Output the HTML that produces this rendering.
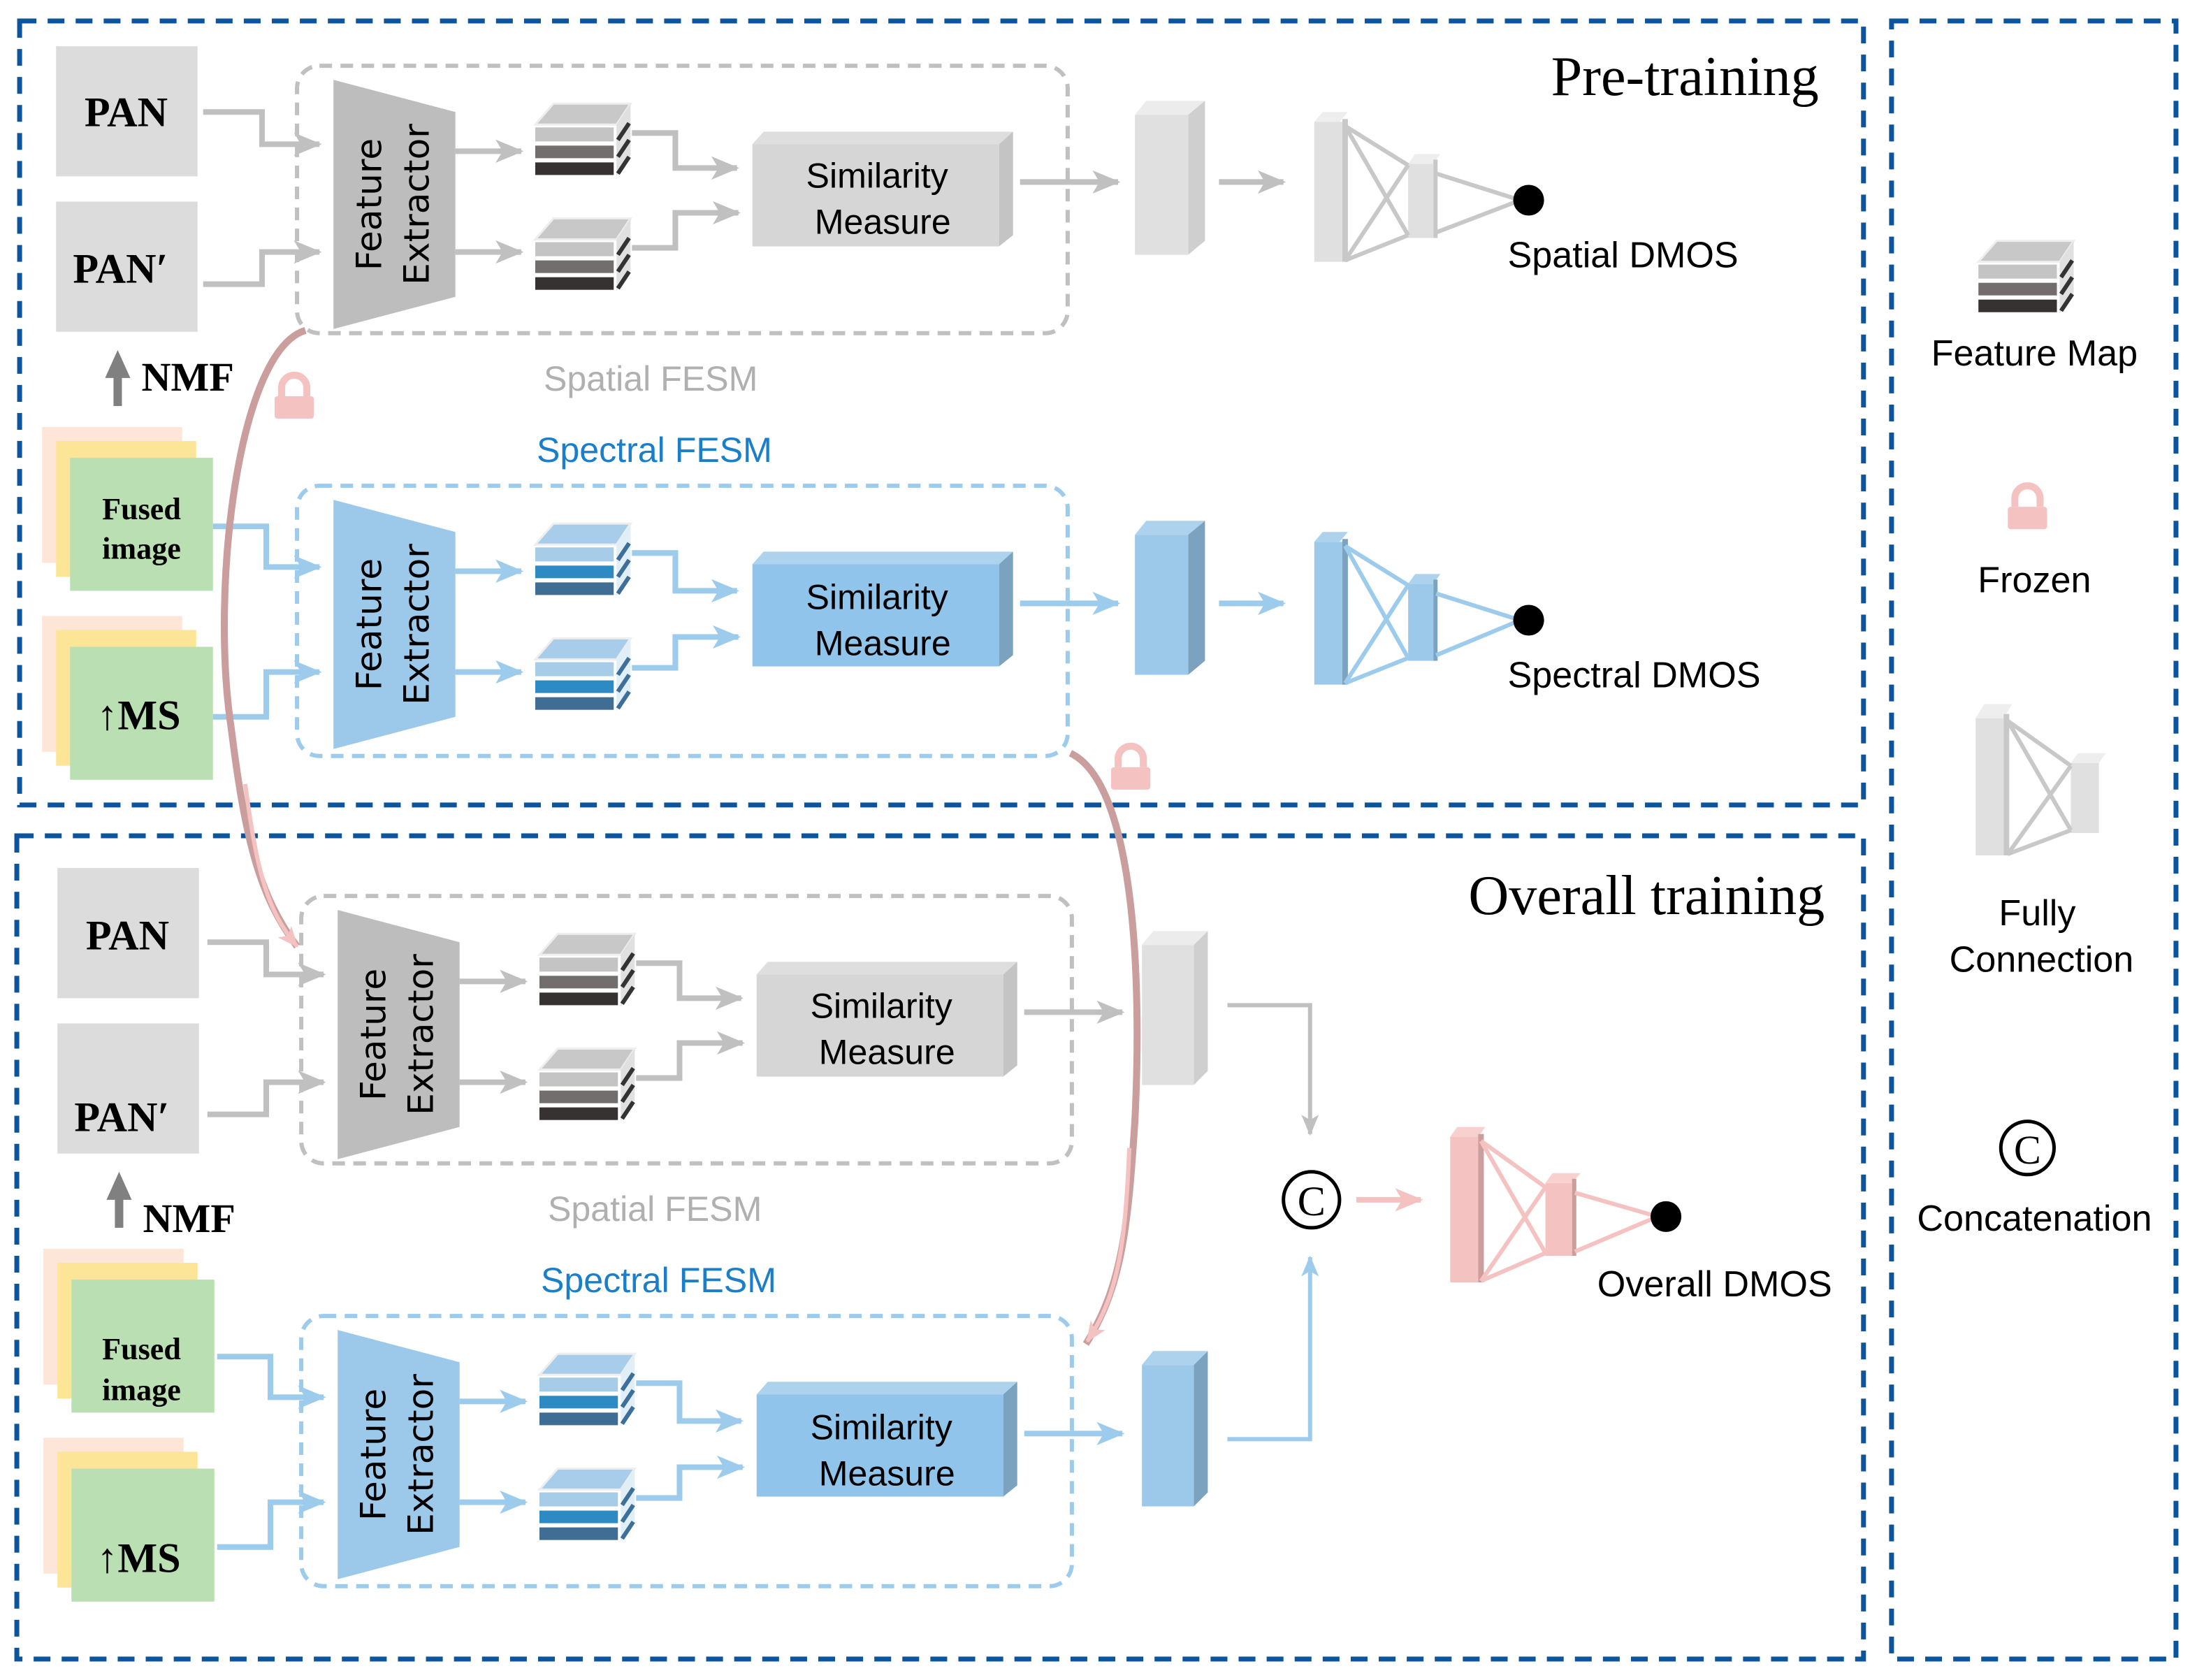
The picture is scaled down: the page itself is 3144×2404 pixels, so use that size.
<!DOCTYPE html>
<html><head><meta charset="utf-8"><style>
html,body{margin:0;padding:0;background:#fff}
svg{display:block}
.sans{font-family:"DejaVu Sans","Liberation Sans",sans-serif}
.ls{font-family:"Liberation Sans",sans-serif}
.serif{font-family:"Liberation Serif",serif}
</style></head><body>
<svg width="3144" height="2404" viewBox="0 0 1568 1200" preserveAspectRatio="none" xmlns="http://www.w3.org/2000/svg">
<defs>
<marker id="ag" viewBox="0 0 12 10" refX="11" refY="5" markerWidth="5" markerHeight="5" orient="auto" markerUnits="strokeWidth"><path d="M0,0 L12,5 L0,10 L3,5z" fill="#c0c0c0"/></marker>
<marker id="ab" viewBox="0 0 12 10" refX="11" refY="5" markerWidth="5" markerHeight="5" orient="auto" markerUnits="strokeWidth"><path d="M0,0 L12,5 L0,10 L3,5z" fill="#9ccbec"/></marker>
<marker id="ap" viewBox="0 0 12 10" refX="11" refY="5" markerWidth="5" markerHeight="5" orient="auto" markerUnits="strokeWidth"><path d="M0,0 L12,5 L0,10 L3,5z" fill="#f4c2c0"/></marker>

<g id="fmG">
<path d="M382,89 L395,74 L450,74 L440,89z" fill="#c8c8c8" stroke="#eee" stroke-width="1.5"/>
<path d="M440,89 L450,74 L450,111 L440,126z" fill="#e0e0e0"/>
<path d="M441,100 L449,88 M441,112 L449,100 M441,124 L449,112" stroke="#333" stroke-width="3"/>
<rect x="382" y="91" width="56" height="10" fill="#c4c4c4"/>
<rect x="382" y="104" width="56" height="9" fill="#736e6e"/>
<rect x="382" y="116" width="56" height="9" fill="#363232"/>
</g>
<g id="fmB">
<path d="M382,89 L395,74 L450,74 L440,89z" fill="#a8cdea" stroke="#eee" stroke-width="1.5"/>
<path d="M440,89 L450,74 L450,111 L440,126z" fill="#e0eef8"/>
<path d="M441,100 L449,88 M441,112 L449,100 M441,124 L449,112" stroke="#3d6f99" stroke-width="3"/>
<rect x="382" y="91" width="56" height="10" fill="#a6cce8"/>
<rect x="382" y="104" width="56" height="9" fill="#2e8ac2"/>
<rect x="382" y="116" width="56" height="9" fill="#3f6d93"/>
</g>

<g id="modG">
<rect x="212" y="47" width="550" height="191" rx="16" fill="none" stroke="#c0c0c0" stroke-width="3" stroke-dasharray="9,6"/>
<path d="M238,57 L325,80 L325,212 L238,235z" fill="#bdbdbd"/>
<use href="#fmG"/><use href="#fmG" y="82"/>
<path d="M545,94 L555,94 L723,94 L713,103 L537,103z" fill="#dedede"/>
<path d="M713,103 L723,94 L723,168 L713,176z" fill="#c4c4c4"/>
<rect x="537" y="103" width="176" height="73" fill="#d6d6d6"/>
<g fill="none" stroke="#c0c0c0" stroke-width="4">
<path d="M145,80 L187,80 L187,103 L228,103" marker-end="url(#ag)"/>
<path d="M145,203 L187,203 L187,180 L228,180" marker-end="url(#ag)"/>
<path d="M325,108 L372,108" marker-end="url(#ag)"/>
<path d="M325,180 L372,180" marker-end="url(#ag)"/>
<path d="M451,95 L482,95 L482,120 L526,120" marker-end="url(#ag)"/>
<path d="M451,177 L482,177 L482,152 L527,152" marker-end="url(#ag)"/>
<path d="M728,130 L798,130" marker-end="url(#ag)"/>
</g>
</g>
<g id="modB">
<rect x="212" y="347" width="550" height="193" rx="16" fill="none" stroke="#9ccbec" stroke-width="3" stroke-dasharray="9,6"/>
<path d="M238,357 L325,380 L325,512 L238,535z" fill="#9cc8ea"/>
<use href="#fmB" y="300"/><use href="#fmB" y="382"/>
<path d="M545,394 L555,394 L723,394 L713,403 L537,403z" fill="#acd2ee"/>
<path d="M713,403 L723,394 L723,468 L713,476z" fill="#7ba3bf"/>
<rect x="537" y="403" width="176" height="73" fill="#90c4ea"/>
<g fill="none" stroke="#9ccbec" stroke-width="4">
<path d="M152,376 L190,376 L190,405 L228,405" marker-end="url(#ab)"/>
<path d="M152,512 L190,512 L190,480 L228,480" marker-end="url(#ab)"/>
<path d="M325,408 L372,408" marker-end="url(#ab)"/>
<path d="M325,480 L372,480" marker-end="url(#ab)"/>
<path d="M451,395 L482,395 L482,422 L526,422" marker-end="url(#ab)"/>
<path d="M451,477 L482,477 L482,455 L527,455" marker-end="url(#ab)"/>
<path d="M728,431 L798,431" marker-end="url(#ab)"/>
</g>
</g>
<g id="lock">
<path d="M-9,0 L-9,-6 A9,9 0 0 1 9,-6 L9,0" fill="none" stroke="#f4c2c0" stroke-width="5"/>
<rect x="-14" y="0" width="28" height="16" rx="2" fill="#f4c2c0"/>
</g>
<g id="inputs">
<rect x="40" y="33" width="101" height="93" fill="#dcdcdc"/>
<rect x="40" y="144" width="101" height="93" fill="#dcdcdc"/>
<rect x="81" y="266" width="6" height="24" fill="#808080"/>
<path d="M75,270 L84,250 L93,270z" fill="#808080"/>
<rect x="30" y="305" width="100" height="97" fill="#fde5d8"/>
<rect x="40" y="315" width="100" height="97" fill="#fde598"/>
<rect x="50" y="327" width="102" height="95" fill="#badfb2"/>
<rect x="30" y="440" width="100" height="97" fill="#fde5d8"/>
<rect x="40" y="450" width="100" height="97" fill="#fde598"/>
<rect x="50" y="462" width="102" height="95" fill="#badfb2"/>
</g>
</defs>

<g fill="none" stroke="#0c559c" stroke-width="3.5" stroke-dasharray="12,8">
<rect x="14" y="15" width="1316" height="560"/>
<rect x="12" y="597" width="1318" height="588"/>
<rect x="1350" y="15" width="203" height="1170"/>
</g>

<use href="#inputs"/>
<use href="#modG"/>
<use href="#modB"/>
<use href="#inputs" x="1" y="587"/>
<use href="#modG" x="3" y="593"/>
<use href="#modB" x="3" y="593"/>

<path d="M810,82 L818,72 L860,72 L848,82z" fill="#ececec"/>
<path d="M848,82 L860,72 L860,172 L848,182z" fill="#cfcfcf"/>
<rect x="810" y="82" width="38" height="100" fill="#e0e0e0"/>
<path d="M870,130 L916,130" stroke="#c0c0c0" stroke-width="4" marker-end="url(#ag)"/>
<g>
<path d="M938,87 L944,80 L962,80 L956,87z" fill="#eee"/>
<rect x="938" y="87" width="20" height="100" fill="#e0e0e0"/>
<rect x="958" y="85" width="4" height="102" fill="#c8c8c8"/>
<rect x="1005" y="117" width="18" height="53" fill="#e0e0e0"/>
<path d="M1005,117 L1010,110 L1028,110 L1023,117z" fill="#eee"/>
<rect x="1023" y="114" width="3" height="56" fill="#c8c8c8"/>
<g stroke="#c8c8c8" stroke-width="3" fill="none">
<path d="M960,90 L1005,118 M960,90 L1005,168 M960,186 L1005,118 M960,186 L1005,168 M1025,124 L1085,143 M1025,166 L1085,143"/>
</g>
<circle cx="1091" cy="143" r="11" fill="#000"/>
</g>
<path d="M810,382 L818,372 L860,372 L848,382z" fill="#acd2ee"/>
<path d="M848,382 L860,372 L860,472 L848,482z" fill="#7ba3bf"/>
<rect x="810" y="382" width="38" height="100" fill="#9cc8ea"/>
<path d="M870,431 L916,431" stroke="#9ccbec" stroke-width="4" marker-end="url(#ab)"/>
<g>
<path d="M938,387 L944,380 L962,380 L956,387z" fill="#acd2ee"/>
<rect x="938" y="387" width="20" height="102" fill="#9cc8ea"/>
<rect x="958" y="385" width="4" height="104" fill="#7ba3bf"/>
<rect x="1005" y="417" width="18" height="55" fill="#9cc8ea"/>
<path d="M1005,417 L1010,410 L1028,410 L1023,417z" fill="#acd2ee"/>
<rect x="1023" y="414" width="3" height="58" fill="#7ba3bf"/>
<g stroke="#9ccbec" stroke-width="3" fill="none">
<path d="M960,390 L1005,418 M960,390 L1005,470 M960,488 L1005,418 M960,488 L1005,470 M1025,424 L1085,443 M1025,468 L1085,443"/>
</g>
<circle cx="1091" cy="443" r="11" fill="#000"/>
</g>

<path d="M815,675 L823,665 L862,665 L852,675z" fill="#ececec"/>
<path d="M852,675 L862,665 L862,765 L852,775z" fill="#cfcfcf"/>
<rect x="815" y="675" width="37" height="100" fill="#e0e0e0"/>
<path d="M815,975 L823,965 L862,965 L852,975z" fill="#acd2ee"/>
<path d="M852,975 L862,965 L862,1066 L852,1076z" fill="#7ba3bf"/>
<rect x="815" y="975" width="37" height="101" fill="#9cc8ea"/>
<path d="M876,718 L935,718 L935,810" stroke="#c0c0c0" stroke-width="3" fill="none" marker-end="url(#ag)"/>
<path d="M876,1028 L935,1028 L935,898" stroke="#9ccbec" stroke-width="3" fill="none" marker-end="url(#ab)"/>
<circle cx="936" cy="857" r="20" fill="none" stroke="#000" stroke-width="2.5"/>
<text x="936" y="868" text-anchor="middle" class="serif" font-size="30" fill="#000">C</text>
<path d="M968,857 L1014,857" stroke="#f4c2c0" stroke-width="4" marker-end="url(#ap)"/>
<g>
<path d="M1035,812 L1040,805 L1060,805 L1055,812z" fill="#f8d0ce"/>
<rect x="1035" y="812" width="20" height="104" fill="#f4c2c0"/>
<rect x="1055" y="810" width="4" height="106" fill="#c99e9c"/>
<rect x="1103" y="845" width="19" height="52" fill="#f4c2c0"/>
<path d="M1103,845 L1108,838 L1128,838 L1122,845z" fill="#f8d0ce"/>
<rect x="1122" y="842" width="3" height="55" fill="#c99e9c"/>
<g stroke="#f4c2c0" stroke-width="3" fill="none">
<path d="M1057,815 L1103,848 M1057,815 L1103,895 M1057,915 L1103,848 M1057,915 L1103,895 M1124,852 L1183,869 M1124,894 L1183,869"/>
</g>
<circle cx="1189" cy="869" r="11" fill="#000"/>
</g>

<path d="M218,236 C170,250 150,420 165,520 C175,600 185,640 212,676" fill="none" stroke="#c99e9c" stroke-width="5"/>
<path d="M175,560 C183,620 190,650 212,676" fill="none" stroke="#f4c2c0" stroke-width="3" marker-end="url(#ap)"/>
<path d="M764,538 C810,560 815,700 810,800 C805,880 800,920 775,960" fill="none" stroke="#c99e9c" stroke-width="5"/>
<path d="M806,820 C803,890 798,925 776,958" fill="none" stroke="#f4c2c0" stroke-width="3" marker-end="url(#ap)"/>
<use href="#lock" x="210" y="283"/>
<use href="#lock" x="807" y="548"/>

<g class="serif" font-weight="bold" fill="#000">
<text x="90" y="90" font-size="30" text-anchor="middle">PAN</text>
<text x="86" y="202" font-size="30" text-anchor="middle">PAN′</text>
<text x="101" y="279" font-size="29">NMF</text>
<text x="101" y="371" font-size="22" text-anchor="middle">Fused</text>
<text x="101" y="399" font-size="22" text-anchor="middle">image</text>
<text x="99" y="521" font-size="30" text-anchor="middle">↑MS</text>
<text x="91" y="678" font-size="30" text-anchor="middle">PAN</text>
<text x="87" y="808" font-size="30" text-anchor="middle">PAN′</text>
<text x="102" y="880" font-size="29">NMF</text>
<text x="101" y="971" font-size="22" text-anchor="middle">Fused</text>
<text x="101" y="1000" font-size="22" text-anchor="middle">image</text>
<text x="99" y="1123" font-size="30" text-anchor="middle">↑MS</text>
</g>
<g class="sans" font-size="25" fill="#000" text-anchor="middle">
<text transform="translate(272,146) rotate(-90)">Feature</text>
<text transform="translate(306,146) rotate(-90)">Extractor</text>
<text transform="translate(272,446) rotate(-90)">Feature</text>
<text transform="translate(306,446) rotate(-90)">Extractor</text>
<text transform="translate(275,739) rotate(-90)">Feature</text>
<text transform="translate(309,739) rotate(-90)">Extractor</text>
<text transform="translate(275,1039) rotate(-90)">Feature</text>
<text transform="translate(309,1039) rotate(-90)">Extractor</text>
</g>
<g class="ls" font-size="25" fill="#000" text-anchor="middle">
<text x="626" y="134">Similarity</text><text x="630" y="167">Measure</text>
<text x="626" y="435">Similarity</text><text x="630" y="468">Measure</text>
<text x="629" y="727">Similarity</text><text x="633" y="760">Measure</text>
<text x="629" y="1028">Similarity</text><text x="633" y="1061">Measure</text>
</g>
<g class="ls" font-size="25">
<text x="388" y="279" fill="#b0b0b0">Spatial FESM</text>
<text x="383" y="330" fill="#1a7fc8">Spectral FESM</text>
<text x="391" y="872" fill="#b0b0b0">Spatial FESM</text>
<text x="386" y="923" fill="#1a7fc8">Spectral FESM</text>
</g>
<g class="ls" font-size="26" fill="#000">
<text x="1076" y="191">Spatial DMOS</text>
<text x="1076" y="491">Spectral DMOS</text>
<text x="1140" y="926">Overall DMOS</text>
</g>
<g class="serif" font-size="40" fill="#000">
<text x="1107" y="68">Pre-training</text>
<text x="1048" y="653">Overall training</text>
</g>

<use href="#fmG" x="1030" y="98"/>
<use href="#lock" x="1447" y="362"/>
<g>
<path d="M1410,513 L1416,503 L1436,503 L1430,513z" fill="#eee"/>
<rect x="1410" y="513" width="20" height="98" fill="#e0e0e0"/>
<rect x="1430" y="510" width="4" height="101" fill="#c8c8c8"/>
<rect x="1478" y="545" width="20" height="50" fill="#e0e0e0"/>
<path d="M1478,545 L1483,538 L1503,538 L1498,545z" fill="#eee"/>
<g stroke="#c8c8c8" stroke-width="3" fill="none">
<path d="M1433,515 L1478,547 M1433,515 L1478,593 M1433,610 L1478,547 M1433,610 L1478,593"/>
</g>
</g>
<circle cx="1447" cy="820" r="19" fill="none" stroke="#000" stroke-width="2.5"/>
<text x="1447" y="831" text-anchor="middle" class="serif" font-size="29">C</text>
<g class="ls" font-size="26" fill="#000" text-anchor="middle">
<text x="1452" y="261">Feature Map</text>
<text x="1452" y="423">Frozen</text>
<text x="1454" y="661">Fully</text>
<text x="1457" y="694">Connection</text>
<text x="1452" y="879">Concatenation</text>
</g>
</svg>
</body></html>
